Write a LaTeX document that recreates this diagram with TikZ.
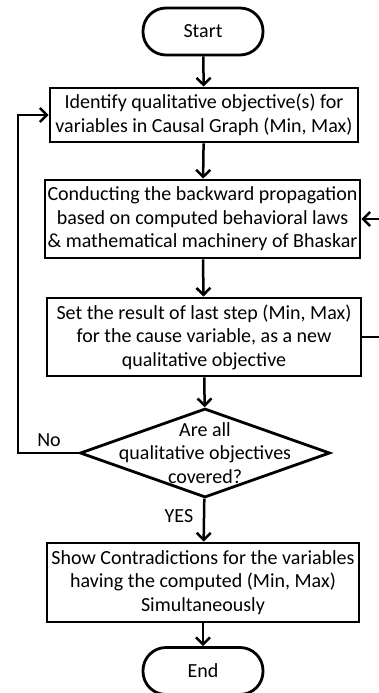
\documentclass[tikz,border=0pt]{standalone}
\usepackage{fontspec}
\setmainfont{Carlito}
\usetikzlibrary{shapes.geometric,arrows.meta}
\begin{document}
\begin{tikzpicture}[x=1pt,y=1pt,
  every node/.style={font=\fontsize{20}{23.5}\selectfont},
  box/.style={draw, line width=2.8pt, align=center, inner sep=0pt},
  term/.style={box, rounded corners=23pt, minimum width=120pt, minimum height=47pt},
  arr/.style={line width=2.5pt, -{Straight Barb[length=7pt,width=14pt,line width=2.5pt]}},
  lbl/.style={inner sep=0pt}]
\useasboundingbox (0,0) rectangle (379,-693);
\node[term] (start) at (203,-31.5) {Start};
\node[box, minimum width=308pt, minimum height=54pt] (b1) at (204,-115)
  {Identify qualitative objective(s) for\\variables in Causal Graph (Min, Max)};
\node[box, minimum width=315pt, minimum height=78pt] (b2) at (202.5,-219)
  {Conducting the backward propagation\\based on computed behavioral laws\\\& mathematical machinery of Bhaskar};
\node[box, minimum width=314pt, minimum height=78pt] (b3) at (204,-337)
  {Set the result of last step (Min, Max)\\for the cause variable, as a new\\qualitative objective};
\node[draw, diamond, line width=2.8pt, minimum width=250pt, minimum height=89pt, inner sep=0pt] (d) at (205,-453) {};
\node[align=center, inner sep=0pt] (dt) at (205,-453) {Are all\\qualitative objectives\\covered?};
\node[box, minimum width=312pt, minimum height=79pt] (b4) at (203,-582.5)
  {Show Contradictions for the variables\\having the computed (Min, Max)\\Simultaneously};
\node[term] (end) at (203,-671) {End};
\coordinate (lx) at (18,-453);
\coordinate (rx) at (395,-337);
\draw[arr] (start) -- (b1);
\draw[arr] (b1) -- (b2);
\draw[arr] (b2) -- (b3);
\draw[arr] (b3) -- (d);
\draw[arr] (d) -- (b4);
\draw[arr] (b4) -- (end);
\draw[arr] (d.west) -- (lx) |- (b1.west);
\draw[arr] (b3.east) -- (rx) |- (b2.east);
\node[lbl] (no) at (49,-440) {No};
\node[lbl] (yes) at (179,-516) {YES};
\end{tikzpicture}
\end{document}
